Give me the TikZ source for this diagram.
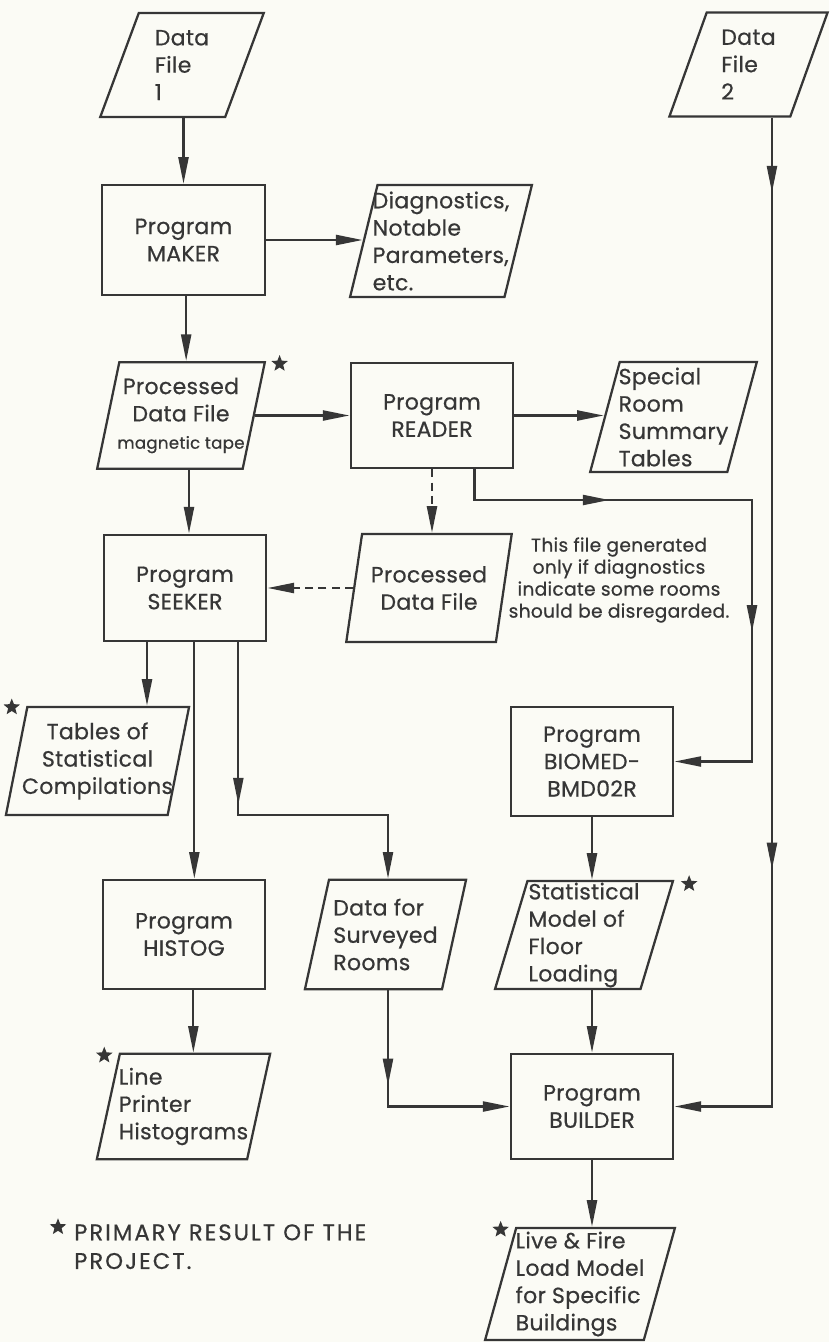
\documentclass[tikz,border=0pt]{standalone}
\usepackage{fontspec}
\setmainfont{Poppins}[LetterSpace=1.5,FakeBold=0.6]
\newfontfamily\legendfamily{Poppins}[LetterSpace=9,FakeBold=0.6]
\usetikzlibrary{shapes.geometric,arrows.meta,decorations.markings}
\definecolor{paper}{HTML}{FBFBF5}
\definecolor{ink}{HTML}{363636}
\newcommand{\boxfont}{\fontsize{16.5}{20.5}\selectfont}
\newcommand{\notefont}{\fontsize{14}{16.5}\selectfont}
\newcommand{\tapefont}{\fontsize{12.5}{14}\selectfont}
\newcommand{\legendfont}{\legendfamily\fontsize{17}{21.5}\selectfont}

\begin{document}
\begin{tikzpicture}[x=0.75pt,y=0.75pt,yscale=-1,xscale=1,
  >={Triangle[length=20pt,width=7.5pt]},
  flow/.style={draw=ink,line width=1.7pt},
  arr/.style={flow,->},
  dashflow/.style={flow,->,dash pattern=on 6pt off 4pt},
  midarr/.style={postaction={decorate},decoration={markings,mark=at position #1 with {\arrow{>}}}},
  midarrs/.style 2 args={postaction={decorate},decoration={markings,mark=at position #1 with {\arrow{>}},mark=at position #2 with {\arrow{>}}}},
  prog/.style={draw=ink,line width=1.7pt,minimum width=122pt,minimum height=80pt,align=center,text=ink,font=\boxfont},
  iofile/.style={trapezium,trapezium left angle=75,trapezium right angle=105,trapezium stretches=true,draw=ink,line width=1.7pt,minimum width=#1,minimum height=81pt,inner xsep=-4pt,inner ysep=1pt,align=left,text=ink,font=\boxfont},
  starmark/.style={star,star points=5,star point ratio=2.3,fill=ink,minimum size=13pt,inner sep=0pt},
  notetext/.style={align=center,text=ink,font=\notefont},
]
%set diagram to the size of the page
\fill[paper] (0,0) rectangle (829,1342);
\useasboundingbox (0,0) rectangle (829,1342);

%Input files
\node[iofile=123pt,minimum height=78pt] (df1) at (182,65) {Data\\File\\1};
\node[iofile=119pt,minimum height=78pt] (df2) at (748.5,64.5) {Data\\File\\2};

%Program MAKER and its outputs
\node[prog,minimum height=82.5pt] (maker) at (183.5,240) {Program\\MAKER};
\node[iofile=136.5pt,minimum height=84pt] (diag) at (441,241) {Diagnostics,\\Notable\\Parameters,\\etc.};
\node[iofile=126pt,minimum height=80pt,align=center] (proc) at (181,415.5) {Processed\\Data File\\{\tapefont magnetic tape}};
\node[starmark,xshift=10pt,yshift=-2pt] (stproc) at (proc.top right corner) {};

%Program READER and its outputs
\node[prog,minimum height=79pt] (reader) at (432,415.5) {Program\\READER};
\node[iofile=125pt,minimum height=82.5pt] (special) at (673.5,417) {Special\\Room\\Summary\\Tables};
\node[iofile=124.5pt,align=center] (proc2) at (429,588) {Processed\\Data File};
\coordinate (rbend) at (752,500);

% Text Node
\node[notetext] (note) at (619,580) {This file generated\\only if diagnostics\\indicate some rooms\\should be disregarded.};

%Program SEEKER and its outputs
\node[prog] (seeker) at (185,588) {Program\\SEEKER};
\node[iofile=136pt,align=center] (tables) at (97.5,761) {Tables of\\Statistical\\Compilations};
\node[starmark,xshift=-11pt,yshift=-1pt] (sttables) at (tables.top left corner) {};
\node[prog,minimum height=82pt] (histog) at (184,934.5) {Program\\HISTOG};
\node[iofile=122pt,minimum height=82pt] (survey) at (385.5,934.5) {Data for\\Surveyed\\Rooms};
\coordinate (sknee) at (388,815);
\node[iofile=130pt,minimum height=79pt] (lprint) at (183.5,1106.5) {Line\\Printer\\Histograms};
\node[starmark,xshift=-11pt,yshift=-2pt] (stlprint) at (lprint.top left corner) {};

%Program BIOMED-BMD02R and BUILDER
\node[prog,minimum height=82pt] (biomed) at (592,761.5) {Program\\BIOMED-\\BMD02R};
\node[iofile=133.5pt] (stat) at (584,935) {Statistical\\Model of\\Floor\\Loading};
\node[starmark,xshift=11pt,yshift=-3pt] (ststat) at (stat.top right corner) {};
\node[prog,minimum height=79pt] (builder) at (592,1106.5) {Program\\BUILDER};
\node[iofile=142.5pt,minimum height=84pt] (live) at (580,1284) {Live \& Fire\\Load Model\\for Specific\\Buildings};
\node[starmark,xshift=-11pt,yshift=-2pt] (stlive) at (live.top left corner) {};

%Legend
\node[starmark] (stlegend) at (58,1227) {};
\node[anchor=north west,align=left,text=ink,font=\legendfont,inner sep=0pt] (legend) at (74,1224) {PRIMARY RESULT OF THE\\PROJECT.};

%Straight Lines
\draw[arr] (maker.north |- df1.south) -- (maker.north);
\draw[arr] (maker.east) -- (maker.east -| diag.left side);
\draw[arr] ([xshift=2pt]maker.south) -- ([xshift=2pt]maker.south |- proc.north);
\draw[arr] (proc.right side) -- (proc.right side -| reader.west);
\draw[arr] (reader.east) -- (reader.east -| special.left side);
\draw[dashflow] (reader.south) -- (reader.south |- proc2.north);
\draw[dashflow] (proc2.left side) -- (proc2.left side -| seeker.east);
\draw[arr,midarrs={0.256}{0.68}] ([xshift=-30pt]reader.south east) |- (rbend) |- (biomed.east);
\draw[arr] ([xshift=3pt]seeker.north |- proc.south) -- ([xshift=3pt]seeker.north);
\draw[arr] ([xshift=-28.5pt]seeker.south) -- ([xshift=-28.5pt]seeker.south |- tables.north);
\draw[arr] ([xshift=7pt]seeker.south) -- ([xshift=7pt]seeker.south |- histog.north);
\draw[arr,midarr=0.42] ([xshift=40pt]seeker.south) |- (sknee) -- (sknee |- survey.north);
\draw[arr] ([xshift=7pt]histog.south) -- ([xshift=7pt]histog.south |- lprint.north);
\draw[arr] (biomed.south) -- (biomed.south |- stat.north);
\draw[arr] (builder.north |- stat.south) -- (builder.north);
\draw[arr,midarr=0.4] (sknee |- survey.south) |- (builder.west);
\draw[arr,midarrs={0.069}{0.692}] ([xshift=17.6pt]df2.south) |- (builder.east);
\draw[arr] (builder.south) -- (builder.south |- live.north);

\end{tikzpicture}
\end{document}
